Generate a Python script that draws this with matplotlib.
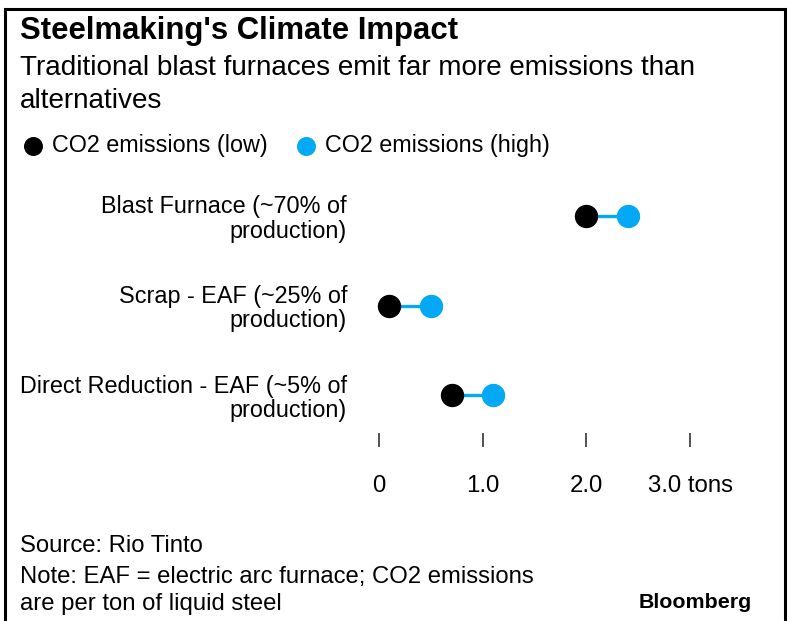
import matplotlib
matplotlib.use('Agg')
import matplotlib.pyplot as plt
from matplotlib.patches import Rectangle

plt.rcParams['font.family'] = ['Liberation Sans', 'DejaVu Sans']

# data (tons of CO2 per ton of liquid steel)
routes = ['Blast Furnace (~70% of\nproduction)',
          'Scrap - EAF (~25% of\nproduction)',
          'Direct Reduction - EAF (~5% of\nproduction)']
co2_low = [2.0, 0.1, 0.7]
co2_high = [2.4, 0.5, 1.1]
x_ticks = [0, 1, 2, 3]
x_tick_labels = ['0', '1.0', '2.0', '3.0 tons']

BLUE = '#03a9f4'
W, H = 792, 621

fig = plt.figure(figsize=(W / 100, H / 100), dpi=100)

# axes placed in pixel terms: x=0 at 379px, x=3 at 690px
ax = fig.add_axes([379 / W, 1 - 433 / H, (690 - 379) / W, (433 - 170) / H])
ypos = list(range(len(routes)))

ax.hlines(ypos, co2_low, co2_high, color=BLUE, lw=2.4, zorder=1)
lo = ax.scatter(co2_low, ypos, s=250, color='black', zorder=2, clip_on=False,
                label='CO2 emissions (low)')
hi = ax.scatter(co2_high, ypos, s=250, color=BLUE, zorder=2, clip_on=False,
                label='CO2 emissions (high)')

ax.set_xlim(0, 3)
ax.set_ylim(2.42, -0.51)
ax.set_xticks(x_ticks)
ax.set_xticklabels(x_tick_labels, fontsize=17.3)
ax.set_yticks(ypos)
ax.set_yticklabels(routes, fontsize=16.8, linespacing=1.08)
for t in ax.get_yticklabels():
    t.set_horizontalalignment('right')
ax.tick_params(axis='x', length=10, width=1.2, color='#333333', pad=20)
ax.tick_params(axis='y', length=0, pad=23)
for s in ax.spines.values():
    s.set_visible(False)

# titles
fig.text(20 / W, 1 - 31 / H, "Steelmaking's Climate Impact", fontsize=22.4,
         fontweight='bold', va='center')
fig.text(20 / W, 1 - 68 / H, 'Traditional blast furnaces emit far more emissions than',
         fontsize=20.1, va='center')
fig.text(20 / W, 1 - 101 / H, 'alternatives', fontsize=20.1, va='center')

fig.legend(handles=[lo, hi], loc='center left', bbox_to_anchor=(10 / W, 1 - 146 / H),
           ncol=2, frameon=False, fontsize=16.8, handletextpad=-0.2,
           columnspacing=0.65, borderaxespad=0, borderpad=0, scatterpoints=1,
           markerscale=0.8)

# footer
fig.text(20 / W, 1 - 546 / H, 'Source: Rio Tinto', fontsize=17.2, va='center')
fig.text(20 / W, 1 - 577 / H, 'Note: EAF = electric arc furnace; CO2 emissions',
         fontsize=17.2, va='center')
fig.text(20 / W, 1 - 604 / H, 'are per ton of liquid steel', fontsize=17.2, va='center')
fig.text(752 / W, 1 - 603 / H, 'Bloomberg', fontsize=15.4, fontweight='bold',
         ha='right', va='center')

# frame around the graphic
fig.add_artist(Rectangle((5 / W, -0.02), (785 - 5) / W, 1.02 - 9 / H,
                         transform=fig.transFigure, fill=False, lw=2.2,
                         edgecolor='black'))

fig.savefig('out.png', dpi=100)
